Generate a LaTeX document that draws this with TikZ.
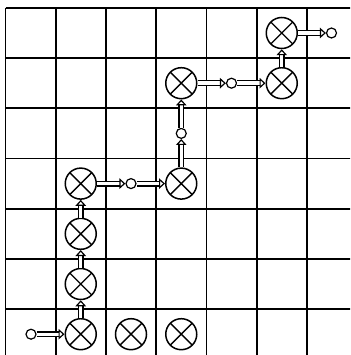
\documentclass[tikz,border=0pt]{standalone}
\usetikzlibrary{arrows.meta}
\begin{document}
\begin{tikzpicture}[x=1pt,y=-1pt,
  gridline/.style={line width=1.8pt},
  xnode/.style={circle, draw, fill=white, line width=1.5pt, minimum size=31pt, inner sep=0pt,
    path picture={\draw[line width=1.4pt] (path picture bounding box.north west) -- (path picture bounding box.south east)
      (path picture bounding box.north east) -- (path picture bounding box.south west);}},
  port/.style={circle, draw, fill=white, line width=1.2pt, minimum size=10pt, inner sep=0pt},
  flow/.style={double, double distance=3.4pt, line width=1.2pt, -{Triangle[open,length=6pt,width=10.5pt,line width=1.2pt]}}
]
\useasboundingbox (0,0) rectangle (350,355);
\begin{scope}
\clip (0,0) rectangle (350,355);
\foreach \i in {0,...,6} {
  \draw[gridline] ({5.5+50.25*\i},8) -- ({5.5+50.25*\i},360);
  \draw[gridline] (5.5,{8+50.2*\i}) -- (360,{8+50.2*\i});
}
\end{scope}
% centers: cx_i = 30.5+50.25 i ; cy_j = 33+50.2 j
\node[xnode] (b1) at (80.75,334.2) {};
\node[xnode] (b2) at (131,334.2) {};
\node[xnode] (b3) at (181.25,334.2) {};
\node[xnode] (c5) at (80.75,284) {};
\node[xnode] (c4) at (80.75,233.8) {};
\node[xnode] (c3) at (80.75,183.6) {};
\node[xnode] (d3) at (181.25,183.6) {};
\node[xnode] (d1) at (181.25,83.2) {};
\node[xnode] (e1) at (281.75,83.2) {};
\node[xnode] (e0) at (281.75,33) {};
\node[port] (p0) at (31,334.2) {};
\node[port] (p1) at (131,183.6) {};
\node[port] (p2) at (181.25,133.4) {};
\node[port] (p3) at (231.5,83.2) {};
\node[port] (p4) at (331.5,33) {};
\draw[flow] (p0) -- (b1);
\draw[flow] (b1) -- (c5);
\draw[flow] (c5) -- (c4);
\draw[flow] (c4) -- (c3);
\draw[flow] (c3) -- (p1);
\draw[flow] (p1) -- (d3);
\draw[flow] (d3) -- (p2);
\draw[flow] (p2) -- (d1);
\draw[flow] (d1) -- (p3);
\draw[flow] (p3) -- (e1);
\draw[flow] (e1) -- (e0);
\draw[flow] (e0) -- (p4);
\end{tikzpicture}
\end{document}
